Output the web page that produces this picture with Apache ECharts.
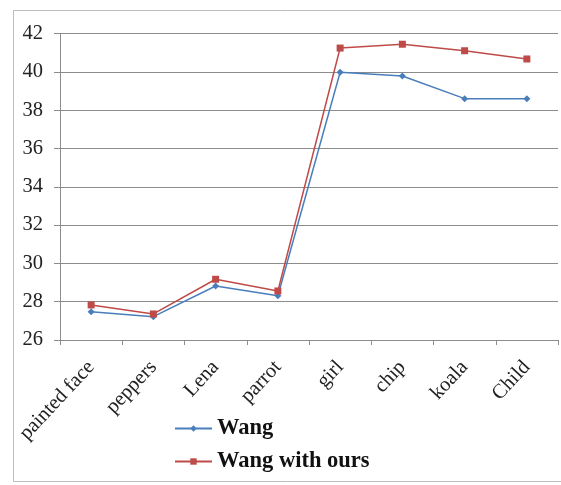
<!DOCTYPE html>
<html>
<head>
<meta charset="utf-8">
<script src="https://cdn.jsdelivr.net/npm/echarts@6/dist/echarts.min.js"></script>
<style>
  html, body { margin: 0; padding: 0; background: #fff; }
  #chart { width: 561px; height: 485px; }
</style>
</head>
<body>
<div id="chart"></div>
<script>
// Test images
const categories = ['painted face', 'peppers', 'Lena', 'parrot', 'girl', 'chip', 'koala', 'Child'];
// PSNR values per image
const wang = [27.48, 27.22, 28.82, 28.31, 39.98, 39.78, 38.6, 38.6];
const wangWithOurs = [27.83, 27.36, 29.17, 28.56, 41.24, 41.44, 41.1, 40.67];
// Value axis range
const yMin = 26, yMax = 42, yStep = 2;

const serif = "'Liberation Serif', 'DejaVu Serif', serif";
const blue = '#4a7ebb';
const red = '#be4b48';

const chart = echarts.init(document.getElementById('chart'), null, { renderer: 'canvas' });
chart.setOption({
  animation: false,
  backgroundColor: '#fff',
  graphic: [{
    type: 'rect',
    shape: { x: 13.5, y: 10.5, width: 560, height: 471 },
    style: { fill: 'none', stroke: '#bdbdbd', lineWidth: 1 },
    silent: true,
    z: -1
  }],
  grid: { left: 60, right: 3, top: 33.5, bottom: 145, containLabel: false },
  legend: {
    orient: 'vertical',
    left: 169,
    top: 412,
    itemWidth: 37,
    itemHeight: 8,
    itemGap: 10,
    textStyle: { fontFamily: serif, fontWeight: 'bold', fontSize: 22.5, color: '#111' },
    data: ['Wang', 'Wang with ours']
  },
  xAxis: {
    type: 'category',
    data: categories,
    boundaryGap: true,
    axisLine: { lineStyle: { color: '#8c8c8c', width: 1 } },
    axisTick: { show: true, length: 5, lineStyle: { color: '#8c8c8c' } },
    axisLabel: { rotate: 47, margin: 24, fontFamily: serif, fontSize: 20.5, color: '#222', interval: 0 }
  },
  yAxis: {
    type: 'value',
    min: yMin,
    max: yMax,
    interval: yStep,
    axisLine: { show: true, lineStyle: { color: '#8c8c8c', width: 1 } },
    axisTick: { show: true, length: 6, lineStyle: { color: '#8c8c8c' } },
    axisLabel: { margin: 17, fontFamily: serif, fontSize: 20.5, color: '#222' },
    splitLine: { lineStyle: { color: '#8c8c8c', width: 1 } }
  },
  series: [
    {
      name: 'Wang',
      type: 'line',
      data: wang,
      symbol: 'diamond',
      symbolSize: 7,
      color: blue,
      lineStyle: { width: 1.5 },
      z: 3
    },
    {
      name: 'Wang with ours',
      type: 'line',
      data: wangWithOurs,
      symbol: 'rect',
      symbolSize: 7,
      color: red,
      lineStyle: { width: 1.5 },
      z: 4
    }
  ]
});
</script>
</body>
</html>
